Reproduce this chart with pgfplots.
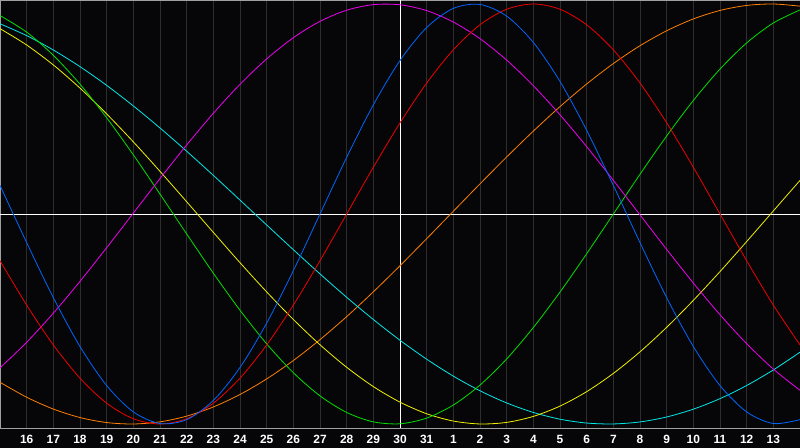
\documentclass[border=0pt]{standalone}
\usepackage{fontspec}
\setmainfont{Liberation Sans}
\usepackage{pgfplots}
\usepackage{pgfplotstable}
\pgfplotsset{compat=1.18}

\definecolor{bg}{HTML}{060608}
\definecolor{gridgray}{HTML}{2E2E2E}
\definecolor{framegray}{HTML}{A0A0A0}
\definecolor{cred}{HTML}{F00000}
\definecolor{cblue}{HTML}{0066FF}
\definecolor{cgreen}{HTML}{00E000}
\definecolor{cyellow}{HTML}{F0F000}
\definecolor{ccyan}{HTML}{00E8E8}
\definecolor{cmagenta}{HTML}{F000F0}
\definecolor{corange}{HTML}{FF8000}

% day offset from left edge (0 = the 15th), value of each cycle
\pgfplotstableread{
X  red     blue    green   yellow  cyan    magenta orange
0  -0.2225  0.1362  0.9450  0.8826  0.9059 -0.7329 -0.8013
1  -0.4339 -0.1362  0.8660  0.8047  0.8494 -0.6109 -0.8725
2  -0.6235 -0.3984  0.7557  0.7097  0.7809 -0.4723 -0.9288
3  -0.7818 -0.6311  0.6182  0.5995  0.7016 -0.3208 -0.9692
4  -0.9010 -0.8170  0.4582  0.4765  0.6126 -0.1605 -0.9931
5  -0.9749 -0.9423  0.2817  0.3435  0.5145  0.0041 -0.9999
6  -1.0000 -0.9977  0.0950  0.2031  0.4096  0.1687 -0.9897
7  -0.9749 -0.9791 -0.0950  0.0584  0.2989  0.3286 -0.9625
8  -0.9010 -0.8880 -0.2817 -0.0875  0.1840  0.4796 -0.9188
9  -0.7818 -0.7308 -0.4582 -0.2318  0.0663  0.6174 -0.8594
10 -0.6235 -0.5196 -0.6182 -0.3709 -0.0522  0.7385 -0.7853
11 -0.4339 -0.2698 -0.7557 -0.5021 -0.1699  0.8395 -0.6978
12 -0.2225  0.0000 -0.8660 -0.6227 -0.2852  0.9174 -0.5983
13  0.0000  0.2698 -0.9450 -0.7299 -0.3967  0.9704 -0.4886
14  0.2225  0.5196 -0.9898 -0.8218 -0.5024  0.9969 -0.3706
15  0.4339  0.7308 -0.9989 -0.8959 -0.6012  0.9962 -0.2462
16  0.6235  0.8880 -0.9718 -0.9511 -0.6914  0.9684 -0.1175
17  0.7818  0.9791 -0.9096 -0.9859 -0.7720  0.9141  0.0131
18  0.9010  0.9977 -0.8146 -0.9998 -0.8418  0.8349  0.1435
19  0.9749  0.9423 -0.6901 -0.9923 -0.8997  0.7329  0.2714
20  1.0000  0.8170 -0.5406 -0.9637 -0.9450  0.6109  0.3947
21  0.9749  0.6311 -0.3717 -0.9146 -0.9771  0.4723  0.5113
22  0.9010  0.3984 -0.1893 -0.8459 -0.9954  0.3208  0.6191
23  0.7818  0.1362  0.0000 -0.7590 -0.9997  0.1605  0.7163
24  0.6235 -0.1362  0.1893 -0.6563 -0.9901 -0.0041  0.8013
25  0.4339 -0.3984  0.3717 -0.5395 -0.9665 -0.1687  0.8725
26  0.2225 -0.6311  0.5406 -0.4112 -0.9293 -0.3286  0.9288
27  0.0000 -0.8170  0.6901 -0.2741 -0.8792 -0.4796  0.9692
28 -0.2225 -0.9423  0.8146 -0.1311 -0.8166 -0.6174  0.9931
29 -0.4339 -0.9977  0.9096  0.0147 -0.7425 -0.7385  0.9999
30 -0.6235 -0.9791  0.9718  0.1600 -0.6581 -0.8395  0.9897
}\cycles

\begin{document}
\begin{tikzpicture}
  \fill[bg] (0bp,0bp) rectangle (800bp,448bp);
  \useasboundingbox (0bp,0bp) rectangle (800bp,448bp);
  \begin{axis}[
      at={(0bp,448bp)}, anchor=north west,
      scale only axis,
      width=800bp, height=428bp,
      xmin=0, xmax=30,
      ymin=-1.019, ymax=1.019,
      axis background/.style={fill=bg},
      axis line style={framegray, line width=0.8bp},
      xtick={1,...,29},
      xticklabels={16,17,18,19,20,21,22,23,24,25,26,27,28,29,30,31,1,2,3,4,5,6,7,8,9,10,11,12,13},
      ytick=\empty,
      major tick length=0pt,
      xmajorgrids,
      grid style={gridgray, line width=0.8bp},
      xticklabel style={anchor=center, yshift=-11bp, text=white,
        font=\bfseries\fontsize{12}{13}\selectfont},
      every axis plot/.append style={line width=0.8bp, smooth},
    ]
    % centre lines (today and zero)
    \draw[white, line width=0.9bp] (axis cs:15,-1.019) -- (axis cs:15,1.019);
    \draw[white, line width=0.9bp] (axis cs:0,0) -- (axis cs:30,0);

    \addplot[corange]  table[x=X, y=orange]  {\cycles};
    \addplot[ccyan]    table[x=X, y=cyan]    {\cycles};
    \addplot[cyellow]  table[x=X, y=yellow]  {\cycles};
    \addplot[cgreen]   table[x=X, y=green]   {\cycles};
    \addplot[cmagenta] table[x=X, y=magenta] {\cycles};
    \addplot[cred]     table[x=X, y=red]     {\cycles};
    \addplot[cblue]    table[x=X, y=blue]    {\cycles};
  \end{axis}
\end{tikzpicture}
\end{document}
